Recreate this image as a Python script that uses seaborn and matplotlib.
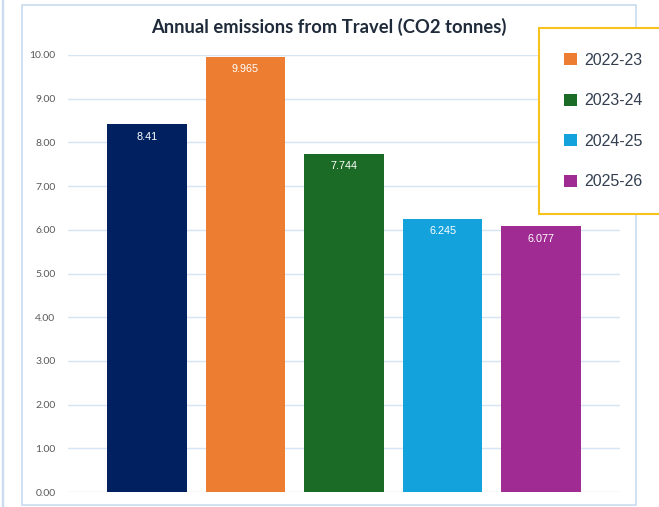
import matplotlib
matplotlib.use("Agg")
import matplotlib.pyplot as plt
import matplotlib.patches as mpatches
import seaborn as sns
import pandas as pd

years = ["2021-22", "2022-23", "2023-24", "2024-25", "2025-26"]
emissions = [8.41, 9.965, 7.744, 6.245, 6.077]
labels = ["8.41", "9.965", "7.744", "6.245", "6.077"]
colors = ["#002060", "#ED7D31", "#1B6B26", "#13A2DB", "#A02C93"]
yticks = [0, 1, 2, 3, 4, 5, 6, 7, 8, 9, 10]
legend_years = ["2022-23", "2023-24", "2024-25", "2025-26"]

df = pd.DataFrame({"year": years, "value": emissions})

sns.set_theme(style="white")
plt.rcParams["font.family"] = ["Lato", "DejaVu Sans"]

W, H = 659, 507
fig = plt.figure(figsize=(W / 100, H / 100), dpi=100)
ax = fig.add_axes([68 / W, 1 - 492 / H, (620 - 68) / W, (492 - 55) / H])

sns.barplot(data=df, x="year", y="value", hue="year", palette=colors,
            width=0.81, legend=False, ax=ax, saturation=1, edgecolor="none")

ax.set_ylim(0, 10)
ax.set_xlim(-0.8, 4.8)
ax.set_yticks(yticks)
ax.set_yticklabels([f"{v:.2f}" for v in yticks], fontsize=7.5, color="#595959")
ax.tick_params(axis="y", length=0, pad=9)
ax.set_xticks([])
ax.set_xlabel("")
ax.set_ylabel("")
for s in ax.spines.values():
    s.set_visible(False)
ax.yaxis.grid(True, color="#D6E4F3", linewidth=1)
ax.set_axisbelow(True)

for i, p in enumerate(ax.patches):
    ax.text(p.get_x() + p.get_width() / 2, p.get_height() - 0.28, labels[i],
            ha="center", va="center", color="white", fontsize=7.8,
            family=["Liberation Sans", "DejaVu Sans"])

fig.text(329 / W, 1 - 27 / H, "Annual emissions from Travel (CO2 tonnes)",
         ha="center", va="center", fontsize=13.2, fontweight="bold", color="#1F2B3A")

# outer chart border
fig.patches.append(mpatches.Rectangle((22 / W, 1 - 505 / H), (636 - 22) / W, 500 / H,
                                      transform=fig.transFigure, fill=False,
                                      edgecolor="#C9DCF0", linewidth=1.2))
fig.patches.append(mpatches.Rectangle((2 / W, 0), 0.5 / W, 1,
                                      transform=fig.transFigure, fill=False,
                                      edgecolor="#C9DCF0", linewidth=1.0))

handles = [mpatches.Patch(facecolor=c, edgecolor="none") for c in colors[1:]]
leg = fig.legend(handles, legend_years, loc="upper left",
                 bbox_to_anchor=(539 / W, 1 - 28 / H),
                 frameon=True, fancybox=False, fontsize=11.5,
                 handlelength=0.8, handleheight=0.8, handletextpad=0.5,
                 labelspacing=1.6, borderpad=1.55, borderaxespad=0,
                 labelcolor="#333F50")
fr = leg.get_frame()
fr.set_edgecolor("#F7C21B")
fr.set_linewidth(1.5)
fr.set_facecolor("white")
fr.set_alpha(1)
for t in leg.get_texts():
    t.set_family(["Liberation Sans", "DejaVu Sans"])

fig.savefig("out.png", dpi=100)
